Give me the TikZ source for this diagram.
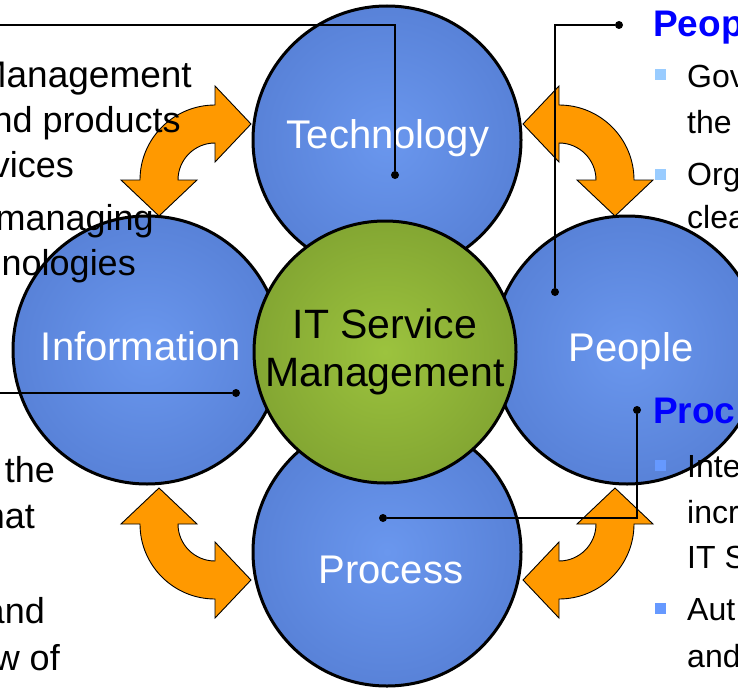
\documentclass[tikz,border=0pt]{standalone}
\usepackage{fontspec}
\setmainfont{Liberation Sans}
\usetikzlibrary{calc,positioning}

\definecolor{ballIn}{HTML}{6A97EE}
\definecolor{ballOut}{HTML}{476DC2}
\definecolor{hubIn}{HTML}{9CC33E}
\definecolor{hubOut}{HTML}{6B8A27}
\definecolor{swapOrange}{HTML}{FF9900}
\definecolor{headBlue}{HTML}{0000FF}
\definecolor{dotPale}{HTML}{99CCFF}
\definecolor{dotMid}{HTML}{6699FF}

\pgfdeclareradialshading{ballshade}{\pgfpoint{0bp}{0bp}}{color(0bp)=(ballIn); color(50bp)=(ballOut)}
\pgfdeclareradialshading{hubshade}{\pgfpoint{0bp}{0bp}}{color(0bp)=(hubIn); color(50bp)=(hubOut)}

\newcommand{\pxsize}[1]{\fontsize{#1}{#1}\selectfont}

\tikzset{
  ballnode/.style={circle, draw=black, line width=3pt, minimum size=268pt, inner sep=0pt, shade, shading=ballshade},
  hub/.style={circle, draw=black, line width=3pt, minimum size=262pt, inner sep=0pt, shade, shading=hubshade,
    align=center, font=\fontsize{41}{48}\selectfont},
  balltext/.style={anchor=base, text=white, font=\pxsize{40}},
  swaparrow/.style={fill=swapOrange, draw=black, line width=0.9pt, line join=miter},
  leaderdot/.style={circle, fill=black, inner sep=0pt, minimum size=8pt},
  leader/.style={draw=black, line width=1.5pt},
  lefttext/.style={anchor=base east, font=\pxsize{36}, inner sep=0pt},
  righttext/.style={anchor=base west, font=\pxsize{32}, inner sep=0pt},
  heading/.style={anchor=base west, font=\pxsize{37}\bfseries, text=headBlue, inner sep=0pt},
  bulletsq/.style={fill=#1, minimum size=11pt, inner sep=0pt},
}

\begin{document}
\begin{tikzpicture}[x=1pt, y=-1pt]
	\useasboundingbox (0,0) rectangle (738,690);
	\clip (0,0) rectangle (738,690);

	% curved double arrows between the outer balls
	\foreach \cx/\cy/\sx/\sy in {215/180/1/1, 559/180/-1/1, 215/524/1/-1, 559/524/-1/-1}{
		\begin{scope}[shift={(\cx,\cy)}, xscale=\sx, yscale=\sy]
			\draw[swaparrow] (0,-75) -- (0,-94) -- (36,-56) -- (0,-18) -- (0,-37)
				arc [start angle=270, end angle=180, radius=37] -- (-18,0) -- (-56,36) -- (-94,0) -- (-75,0)
				arc [start angle=180, end angle=270, radius=75] -- cycle;
		\end{scope}
	}

	% balls
	\coordinate (center) at (387,350);
	\node[ballnode] (tech) at ($(center) + (0,-210)$) {};
	\node[ballnode] (info) at ($(center) + (-240,0)$) {};
	\node[ballnode] (people) at ($(center) + (240,0)$) {};
	\node[ballnode] (proc) at ($(center) + (0,202)$) {};
	\node[hub] (itsm) at ($(center) + (-2,2)$) {IT Service\\Management};

	\node[balltext] (techlabel) at ($(tech) + (1,8)$) {Technology};
	\node[balltext] (infolabel) at ($(info) + (-6,10)$) {Information};
	\node[balltext] (peoplelabel) at ($(people) + (4,11)$) {People};
	\node[balltext] (proclabel) at ($(proc) + (4,31)$) {Process};

	% text on the left
	\node[lefttext, font=\pxsize{37}] (mgmt) at (192,88) {Management};
	\node[lefttext] (products) at (181,132) {nd products};
	\node[lefttext] (services) at (74,177) {vices};
	\node[lefttext] (managing) at (154,230) {managing};
	\node[lefttext] (nologies) at (136,275) {nologies};
	\node[lefttext] (lthe) at (55,482) {the};
	\node[lefttext] (lhat) at (35,528) {hat};
	\node[lefttext] (land) at (45,623) {and};
	\node[lefttext] (lwof) at (60,670) {w of};

	% text on the right
	\node[heading] (peophd) at (653,37) {Peop};
	\node[bulletsq=dotPale] (sqa) at (660,75) {};
	\node[righttext] (gov) at (687,88) {Gov};
	\node[righttext] (rthe) at (687,133) {the};
	\node[bulletsq=dotPale] (sqb) at (660,174) {};
	\node[righttext] (org) at (687,185) {Org};
	\node[righttext] (clea) at (687,228) {clea};
	\node[heading] (prochd) at (653,423) {Proc};
	\node[bulletsq=dotMid] (sqc) at (660,465) {};
	\node[righttext] (inte) at (687,477) {Inte};
	\node[righttext] (incr) at (687,523) {incr};
	\node[righttext] (its) at (687,568) {IT S};
	\node[bulletsq=dotMid] (sqd) at (660,608) {};
	\node[righttext] (aut) at (687,620) {Aut};
	\node[righttext] (rand) at (687,667) {and};

	% leader lines
	\node[leaderdot] (techdot) at (395,175) {};
	\coordinate (techend) at (0,25);
	\draw[leader] (techend) -| (techdot);

	\node[leaderdot] (peoptop) at (619,25) {};
	\node[leaderdot] (peopdot) at (555,292) {};
	\draw[leader] (peoptop) -| (peopdot);

	\node[leaderdot] (infodot) at (236,393) {};
	\coordinate (infoend) at (0,393);
	\draw[leader] (infodot) -- (infoend);

	\node[leaderdot] (proctop) at (637,410) {};
	\node[leaderdot] (procdot) at (383,518) {};
	\draw[leader] (proctop) |- (procdot);
\end{tikzpicture}
\end{document}
